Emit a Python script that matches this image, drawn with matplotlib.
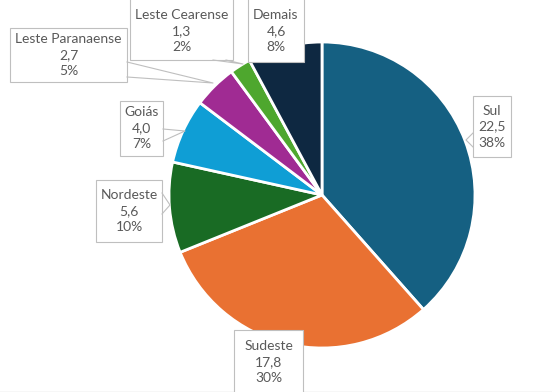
import matplotlib.pyplot as plt
from matplotlib.patches import Rectangle

# data
regioes = ['Sul', 'Sudeste', 'Nordeste', 'Goiás', 'Leste Paranaense', 'Leste Cearense', 'Demais']
valores = [22.5, 17.8, 5.6, 4.0, 2.7, 1.3, 4.6]
cores = ['#156082', '#E97132', '#196B24', '#0F9ED5', '#A02B93', '#4EA72E', '#0E2841']

# label boxes (pixel coords x0, y0, x1, y1) and callout pointer (base1, base2, tip)
caixas = [
    (473, 96, 511, 157),
    (234, 330, 303, 396),
    (96, 180, 162, 242),
    (120, 101, 163, 156),
    (10, 28, 127, 82),
    (130, -4, 233, 60),
    (248, -4, 304, 62),
]
ponteiros = [
    ((473, 133), (473, 147), (466, 140)),
    None,
    ((162, 193), (162, 214), (170, 205)),
    ((163, 129), (163, 141), (185, 131)),
    ((127, 62), (127, 77), (213, 83)),
    ((213, 60), (226, 60), (243, 64)),
    None,
]

fig = plt.figure(figsize=(5.52, 3.92), dpi=100)
ax = fig.add_axes([0, 0, 1, 1])

# y axis is inverted (pixel coords), so startangle=-90 + counterclock gives
# a clockwise pie starting at 12 o'clock on screen
ax.pie(valores, colors=cores, center=(322, 195), radius=153,
       startangle=-90, counterclock=True,
       wedgeprops=dict(edgecolor='white', linewidth=2))
ax.set_aspect('auto')
ax.set_xlim(0, 552)
ax.set_ylim(392, 0)
ax.axis('off')

total = sum(valores)
cor_txt = '#595959'
cor_borda = '#BFBFBF'
for nome, v, cx, pt in zip(regioes, valores, caixas, ponteiros):
    x0, y0, x1, y1 = cx
    ax.add_patch(Rectangle((x0, y0), x1 - x0, y1 - y0, facecolor='white',
                           edgecolor=cor_borda, linewidth=0.8, zorder=3))
    if pt is not None:
        b1, b2, tip = pt
        ax.plot([b1[0], tip[0], b2[0]], [b1[1], tip[1], b2[1]],
                color=cor_borda, linewidth=0.8, zorder=3)
    txt = '%s\n%s\n%d%%' % (nome, ('%.1f' % v).replace('.', ','), round(v / total * 100))
    yc = (y0 + y1) / 2
    if y1 > 392:
        yc = y0 + 32
    if y0 < 0:
        yc = 31
    ax.text((x0 + x1) / 2, yc, txt, ha='center', va='center', color=cor_txt,
            fontsize=10, family='Lato', linespacing=1.4, zorder=4)

ax.plot([0, 552], [391.5, 391.5], color='#D9D9D9', linewidth=1)

fig.savefig('out.png', dpi=100)
